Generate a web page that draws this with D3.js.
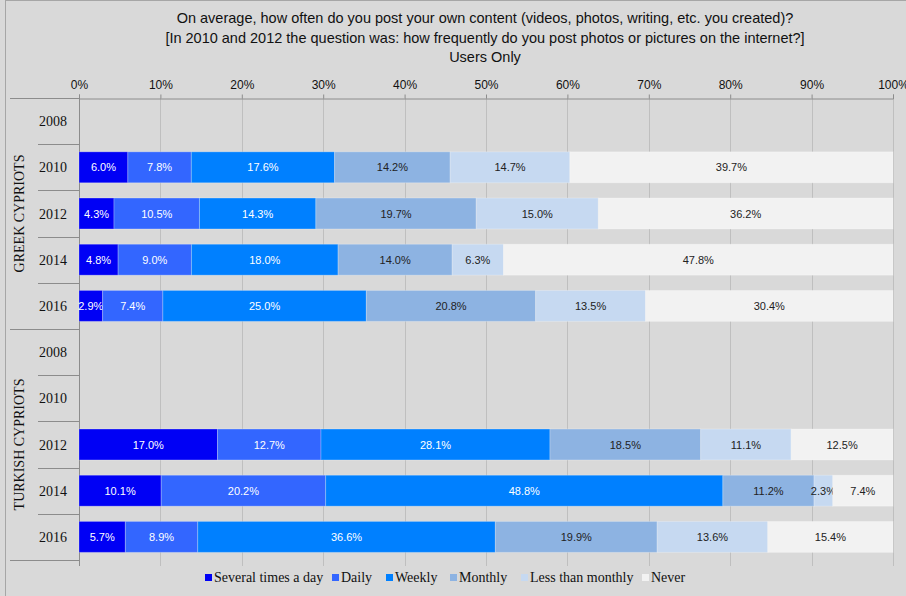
<!DOCTYPE html>
<html>
<head>
<meta charset="utf-8">
<script src="https://cdn.jsdelivr.net/npm/d3@7"></script>
<style>
  body { margin: 0; background: #d9d9d9; }
</style>
</head>
<body>
<script>
// data
var categories = ["Several times a day", "Daily", "Weekly", "Monthly", "Less than monthly", "Never"];
var colours = ["#0000f5", "#3366ff", "#0080ff", "#8db3e2", "#c6d9f1", "#f2f2f2"];
var textColours = ["#fff", "#fff", "#fff", "#222", "#222", "#222"];
var groups = ["GREEK CYPRIOTS", "TURKISH CYPRIOTS"];
var years = ["2008", "2010", "2012", "2014", "2016"];
var ticks = [0, 10, 20, 30, 40, 50, 60, 70, 80, 90, 100];

// one array per row, null = no data
var greek2008 = null;
var greek2010 = [6.0, 7.8, 17.6, 14.2, 14.7, 39.7];
var greek2012 = [4.3, 10.5, 14.3, 19.7, 15.0, 36.2];
var greek2014 = [4.8, 9.0, 18.0, 14.0, 6.3, 47.8];
var greek2016 = [2.9, 7.4, 25.0, 20.8, 13.5, 30.4];
var turkish2008 = null;
var turkish2010 = null;
var turkish2012 = [17.0, 12.7, 28.1, 18.5, 11.1, 12.5];
var turkish2014 = [10.1, 20.2, 48.8, 11.2, 2.3, 7.4];
var turkish2016 = [5.7, 8.9, 36.6, 19.9, 13.6, 15.4];

var rows = [
  {group: 0, year: "2008", values: greek2008},
  {group: 0, year: "2010", values: greek2010},
  {group: 0, year: "2012", values: greek2012},
  {group: 0, year: "2014", values: greek2014},
  {group: 0, year: "2016", values: greek2016},
  {group: 1, year: "2008", values: turkish2008},
  {group: 1, year: "2010", values: turkish2010},
  {group: 1, year: "2012", values: turkish2012},
  {group: 1, year: "2014", values: turkish2014},
  {group: 1, year: "2016", values: turkish2016}
];
rows.forEach(function(d) { d.key = d.group + "-" + d.year; });

var w = 906, h = 596;
var plotLeft = 79, plotRight = 893, plotTop = 98, plotBottom = 560;

var svg = d3.select("body").append("svg")
  .attr("width", w)
  .attr("height", h);

// chart border (right and bottom edges run off the picture)
svg.append("rect")
  .attr("x", 5.5).attr("y", 0.5)
  .attr("width", w + 10).attr("height", h + 10)
  .attr("fill", "#d9d9d9")
  .attr("stroke", "#a6a6a6");

var x = d3.scaleLinear().domain([0, 100]).range([plotLeft, plotRight]);
var y = d3.scaleBand()
  .domain(rows.map(function(d) { return d.key; }))
  .range([plotTop, plotBottom])
  .paddingInner(0.33)
  .paddingOuter(0.165);
var step = y.step();

// title
var titleFont = "'Liberation Sans Narrow', 'Arial Narrow', 'Liberation Sans', sans-serif";
var titleLines = [
  "On average, how often do you post your own content (videos, photos, writing, etc. you created)?",
  "[In 2010 and 2012 the question was: how frequently do you post photos or pictures on the internet?]",
  "Users Only"
];
svg.selectAll(".title")
  .data(titleLines)
  .enter().append("text")
  .attr("class", "title")
  .attr("x", 485)
  .attr("y", function(d, i) { return 23 + i * 19.5; })
  .attr("text-anchor", "middle")
  .attr("font-family", titleFont)
  .attr("font-size", "14.5px")
  .attr("fill", "#111")
  .text(function(d) { return d; });

// gridlines
svg.append("g")
  .selectAll("line")
  .data(ticks.slice(1))
  .enter().append("line")
  .attr("x1", function(d) { return Math.round(x(d)) + 0.5; })
  .attr("x2", function(d) { return Math.round(x(d)) + 0.5; })
  .attr("y1", plotTop)
  .attr("y2", plotBottom + 6)
  .attr("stroke", "#bfbfbf");

// top axis
var axis = svg.append("g")
  .attr("transform", "translate(0," + (plotTop + 0.5) + ")")
  .call(d3.axisTop(x).tickValues(ticks).tickSize(4).tickFormat(function(d) { return d + "%"; }));
axis.select(".domain").attr("stroke", "#8c8c8c");
axis.selectAll(".tick line").attr("stroke", "#8c8c8c");
axis.selectAll(".tick text")
  .attr("y", -10)
  .attr("font-family", titleFont)
  .attr("font-size", "12px")
  .attr("fill", "#111");

// left label frame
var frame = svg.append("g").attr("stroke", "#8c8c8c").attr("fill", "none");
var midY = (plotTop + plotBottom) / 2;
frame.append("line").attr("x1", 10).attr("x2", plotLeft).attr("y1", plotTop + 0.5).attr("y2", plotTop + 0.5);
frame.append("line").attr("x1", 10).attr("x2", plotLeft).attr("y1", Math.round(midY) + 0.5).attr("y2", Math.round(midY) + 0.5);
frame.append("line").attr("x1", 10).attr("x2", plotLeft).attr("y1", plotBottom + 0.5).attr("y2", plotBottom + 0.5);
frame.append("line").attr("x1", plotLeft + 0.5).attr("x2", plotLeft + 0.5).attr("y1", plotTop).attr("y2", plotBottom + 6);
frame.selectAll(".sep")
  .data(rows.filter(function(d) { return d.year != "2008"; }))
  .enter().append("line")
  .attr("class", "sep")
  .attr("x1", 38).attr("x2", plotLeft)
  .attr("y1", function(d) { return Math.round(y(d.key) - step * 0.165) + 0.5; })
  .attr("y2", function(d) { return Math.round(y(d.key) - step * 0.165) + 0.5; });

// year labels
svg.selectAll(".year")
  .data(rows)
  .enter().append("text")
  .attr("class", "year")
  .attr("x", 53)
  .attr("y", function(d) { return y(d.key) + y.bandwidth() / 2 + 5; })
  .attr("text-anchor", "middle")
  .attr("font-family", "'Liberation Serif', 'Times New Roman', serif")
  .attr("font-size", "14px")
  .attr("fill", "#111")
  .text(function(d) { return d.year; });

// group labels
svg.selectAll(".group")
  .data(groups)
  .enter().append("text")
  .attr("class", "group")
  .attr("transform", function(d, i) {
    var cy = plotTop + (plotBottom - plotTop) / 4 * (2 * i + 1);
    return "translate(24," + cy + ") rotate(-90)";
  })
  .attr("text-anchor", "middle")
  .attr("font-family", "'Liberation Serif', 'Times New Roman', serif")
  .attr("font-size", "14px")
  .attr("fill", "#111")
  .text(function(d) { return d; });

// bars
var stacked = [];
rows.forEach(function(r) {
  if (!r.values) return;
  var total = d3.sum(r.values), acc = 0;
  r.values.forEach(function(v, i) {
    stacked.push({key: r.key, cat: i, value: v, x0: acc / total * 100, x1: (acc + v) / total * 100});
    acc += v;
  });
});

var seg = svg.append("g").selectAll("g")
  .data(stacked)
  .enter().append("g");

seg.append("rect")
  .attr("x", function(d) { return x(d.x0); })
  .attr("y", function(d) { return y(d.key); })
  .attr("width", function(d) { return x(d.x1) - x(d.x0); })
  .attr("height", y.bandwidth())
  .attr("fill", function(d) { return colours[d.cat]; })
  .attr("stroke", "rgba(255,255,255,0.25)")
  .attr("stroke-width", 1);

seg.append("text")
  .attr("x", function(d) { return (x(d.x0) + x(d.x1)) / 2; })
  .attr("y", function(d) { return y(d.key) + y.bandwidth() / 2 + 4; })
  .attr("text-anchor", "middle")
  .attr("font-family", "'Liberation Sans', Arial, sans-serif")
  .attr("font-size", "11px")
  .attr("fill", function(d) { return textColours[d.cat]; })
  .text(function(d) { return d.value.toFixed(1) + "%"; });

// legend
var legendX = [205, 332, 386, 450, 521, 642];
var legend = svg.append("g").selectAll("g")
  .data(categories)
  .enter().append("g")
  .attr("transform", function(d, i) { return "translate(" + legendX[i] + ",582)"; });
legend.append("rect")
  .attr("x", 0).attr("y", -8)
  .attr("width", 7).attr("height", 7)
  .attr("fill", function(d, i) { return colours[i]; });
legend.append("text")
  .attr("x", 9)
  .attr("y", 0)
  .attr("font-family", "'Liberation Serif', 'Times New Roman', serif")
  .attr("font-size", "14px")
  .attr("fill", "#111")
  .text(function(d) { return d; });
</script>
</body>
</html>
